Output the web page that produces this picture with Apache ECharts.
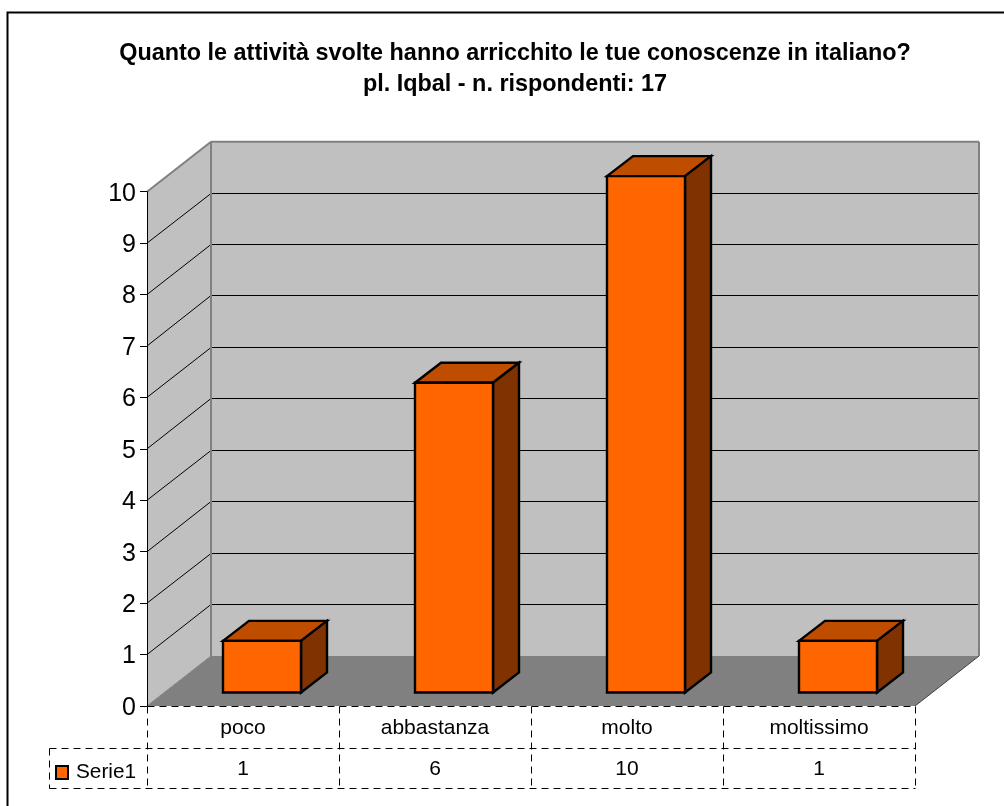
<!DOCTYPE html>
<html><head><meta charset="utf-8">
<style>html,body{margin:0;padding:0;background:#fff}#c{width:1004px;height:806px}</style>
<script src="https://cdn.jsdelivr.net/npm/echarts@6/dist/echarts.min.js"></script>
</head><body><div id="c"></div>
<script>
const categories = ['poco', 'abbastanza', 'molto', 'moltissimo'];
const values = [1, 6, 10, 1];
const seriesName = 'Serie1';
const titleLines = 'Quanto le attività svolte hanno arricchito le tue conoscenze in italiano?\npl. Iqbal - n. rispondenti: 17';
const yTicks = [0,1,2,3,4,5,6,7,8,9,10];

// oblique projection of the Excel-style 3D box, pixels per depth
const DX = 64, DY = -50;
const BAR_OFF_X = 19, BAR_OFF_Y = -13.5, BAR_W = 78, BAR_DX = 26, BAR_DY = -20, BAR_SCALE = 1.004;
const GRID = {left:147, top:191.7, width:768, height:514.3};
const font = '"Liberation Sans", Arial, sans-serif';
const dash = {stroke:'#000', lineWidth:1, lineDash:[7,5]};
const crisp = v => Math.floor(v)+0.5;

const chart = echarts.init(document.getElementById('c'), null, {renderer:'canvas'});

function poly(points, fill, stroke, lw){
  return {type:'polygon', shape:{points}, style:{fill, stroke:stroke||'none', lineWidth:lw||0, lineJoin:'miter'}, silent:true};
}
function line(p,q,style){
  return {type:'line', shape:{x1:p[0],y1:p[1],x2:q[0],y2:q[1]}, style:style, silent:true};
}
function renderWalls(params, api){
  if(params.dataIndex!==0) return;
  const a = api.coord([0,0]), hw = api.size([1,0])[0]/2;
  const x0 = a[0]-hw, x1 = x0+hw*2*categories.length, y0 = a[1], y10 = api.coord([0,10])[1];
  const ch = [];
  ch.push(poly([[x0,y0],[x0+DX,y0+DY],[x1+DX,y0+DY],[x1,y0]],'#808080'));
  ch.push(poly([[x0,y0],[x0,y10],[x0+DX,y10+DY],[x0+DX,y0+DY]],'#c0c0c0'));
  ch.push(poly([[x0+DX,y0+DY],[x0+DX,y10+DY],[x1+DX,y10+DY],[x1+DX,y0+DY]],'#c0c0c0'));
  yTicks.slice(1).forEach(v=>{
    const y = api.coord([0,v])[1];
    if(v<10){
      const by = crisp(y+DY);
      ch.push(line([x0,y],[x0+DX,by],{stroke:'#000',lineWidth:1}));
      ch.push(line([x0+DX,by],[x1+DX,by],{stroke:'#000',lineWidth:1}));
    }
  });
  const g = {stroke:'#808080',lineWidth:2};
  ch.push(line([x0,y10],[x0+DX,y10+DY],g));
  ch.push(line([x0+DX,y10+DY],[x1+DX,y10+DY],g));
  ch.push(line([x0+DX,y10+DY],[x0+DX,y0+DY],g));
  ch.push(line([x1+DX,y10+DY],[x1+DX,y0+DY],g));
  ch.push(line([x0,y0],[x0+DX,y0+DY],{stroke:'#808080',lineWidth:1}));
  ch.push(line([x1,y0],[x1+DX,y0+DY],{stroke:'#404040',lineWidth:1}));
  return {type:'group', children:ch};
}
function renderBar(params, api){
  const i = api.value(0), v = api.value(1);
  const p = api.coord([i,v]), b = api.coord([i,0]);
  const l = p[0]+BAR_OFF_X-BAR_W/2, r = l+BAR_W, bo = b[1]+BAR_OFF_Y, t = bo-(b[1]-p[1])*BAR_SCALE;
  const st = '#000', lw = 2.4;
  return {type:'group', children:[
    poly([[l,t],[l+BAR_DX,t+BAR_DY],[r+BAR_DX,t+BAR_DY],[r,t]],'#bf4d00',st,lw),
    poly([[r,t],[r+BAR_DX,t+BAR_DY],[r+BAR_DX,bo+BAR_DY],[r,bo]],'#803300',st,lw),
    poly([[l,t],[r,t],[r,bo],[l,bo]],'#ff6600',st,lw)
  ]};
}
function renderTable(params, api){
  if(params.dataIndex!==0) return;
  const a = api.coord([0,0]), w = api.size([1,0])[0];
  const x0 = crisp(a[0]-w/2), y0 = crisp(a[1]);
  const xe = x0+w*categories.length;
  const ch = [];
  for(let k=0;k<=categories.length;k++){
    ch.push(line([x0+k*w,y0],[x0+k*w,y0+83],dash));
  }
  ch.push(line([x0,y0],[xe,y0],dash));
  ch.push(line([49.5,y0+42],[xe,y0+42],dash));
  ch.push(line([49.5,y0+82],[xe,y0+82],dash));
  ch.push(line([49.5,y0+42],[49.5,y0+82],dash));
  return {type:'group', children:ch};
}
const idx = categories.map((c,i)=>[i,values[i]]);
chart.setOption({
  animation:false,
  backgroundColor:'#fff',
  title:{text:titleLines, left:510, top:33, textAlign:'center',
    textStyle:{fontFamily:font,fontWeight:'bold',fontSize:23.4,color:'#000',lineHeight:31}},
  legend:{data:[{name:seriesName,icon:'rect'}], left:55, top:762, itemWidth:12, itemHeight:13, itemGap:12,
    textStyle:{fontFamily:font,fontSize:20.8,color:'#000',padding:[0,0,0,3]}, padding:0, selectedMode:false,
    itemStyle:{borderColor:'#000',borderWidth:2}},
  grid:GRID,
  xAxis:[
    {type:'category',data:categories,position:'bottom',axisLine:{show:false},axisTick:{show:false},
     axisLabel:{fontFamily:font,fontSize:21,color:'#000',margin:12}},
    {type:'category',data:values.map(String),position:'bottom',offset:51,axisLine:{show:false},axisTick:{show:false},
     axisLabel:{fontFamily:font,fontSize:21,color:'#000',margin:2,show:true}}
  ],
  yAxis:{type:'value',min:0,max:10,interval:1,z:5,
    axisLine:{show:true,lineStyle:{color:'#000',width:1}},
    axisTick:{show:true,length:7,lineStyle:{color:'#000'}},splitLine:{show:false},
    axisLabel:{color:'#000',margin:11,formatter:v=>'{n|'+v+'}',
      rich:{n:{fontFamily:font,fontSize:25,color:'#000',padding:[4,0,0,0]}}}},
  series:[
    {type:'custom',name:'walls',clip:false,silent:true,z:1,coordinateSystem:'cartesian2d',data:idx,encode:{x:0,y:1},renderItem:renderWalls},
    {type:'custom',name:'table',clip:false,silent:true,z:2,coordinateSystem:'cartesian2d',data:idx,encode:{x:0,y:1},renderItem:renderTable},
    {type:'custom',name:seriesName,clip:false,silent:true,z:3,coordinateSystem:'cartesian2d',data:idx,encode:{x:0,y:1},renderItem:renderBar,itemStyle:{color:'#ff6600'}}
  ],
  graphic:[{type:'polyline',silent:true,z:100,shape:{points:[[7.5,806],[7.5,12.5],[1004,12.5]]},style:{fill:'none',stroke:'#000',lineWidth:2}}]
});
</script></body></html>
